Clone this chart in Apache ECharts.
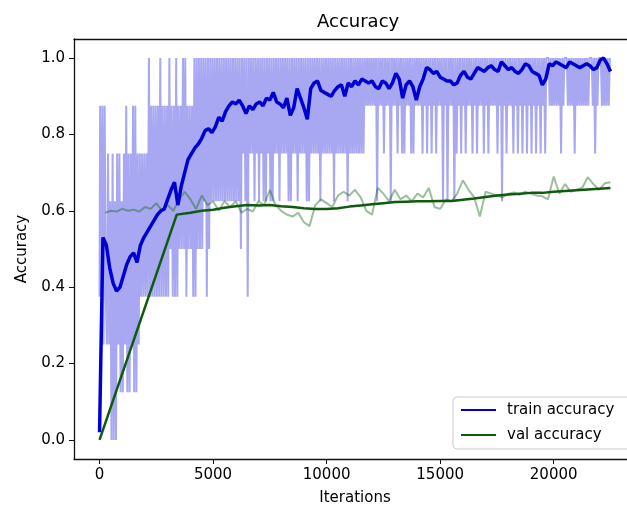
<!DOCTYPE html>
<html>
<head>
<meta charset="utf-8">
<script src="https://cdn.jsdelivr.net/npm/echarts@6/dist/echarts.min.js"></script>
<style>
  html, body { margin: 0; padding: 0; background: #fff; }
  #chart { width: 627px; height: 507px; }
</style>
</head>
<body>
<div id="chart"></div>
<script>
// Per-batch training accuracy, logged every 50 iterations, stored in eighths (batch of 8)
const trainRawStep = 50;
const trainRawEighths = [
  3,7,3,7,2,7,3,2,6,2,  5,0,6,0,5,0,6,2,6,1,  5,1,6,2,7,1,6,1,6,2,
  7,1,7,1,6,2,6,3,6,3,  6,3,6,3,8,3,7,3,7,3,  7,3,7,3,8,3,7,3,7,3,
  7,3,8,4,7,3,7,3,8,3,  7,4,7,4,8,4,8,3,7,4,  7,4,7,3,8,3,8,4,8,4,
  8,4,8,5,8,3,8,4,8,5,  8,5,8,5,8,5,8,5,8,5,  8,5,8,5,8,5,8,5,8,5,
  8,5,8,5,8,4,8,6,8,5,  8,3,8,6,8,6,8,5,8,6,  8,5,8,6,8,5,8,5,8,6,
  8,5,8,5,8,6,8,6,8,5,  8,6,8,6,8,6,8,5,8,5,  8,6,8,6,8,5,8,6,8,6,
  8,6,8,5,8,5,8,6,8,6,  8,6,8,6,8,5,8,6,8,6,  8,6,8,6,8,6,8,5,8,6,
  8,6,8,6,8,6,8,6,8,5,  8,6,8,6,8,6,8,6,8,6,  8,6,8,6,8,7,8,7,8,7,
  8,7,8,7,8,5,8,7,8,7,  8,6,8,7,8,7,8,5,8,7,  8,7,8,6,8,7,8,6,8,6,
  8,7,8,7,8,6,8,6,8,7,  8,7,8,7,8,6,8,7,8,6,  8,7,8,6,8,7,8,6,8,7,
  8,7,8,5,8,7,8,5,8,7,  8,7,8,5,8,6,8,7,8,6,  8,7,8,6,8,7,8,7,8,6,
  8,7,8,6,8,7,8,7,8,6,  8,7,8,6,8,7,8,7,8,7,  8,6,8,7,8,5,8,7,8,6,
  8,7,8,7,8,6,8,7,8,6,  8,7,8,6,8,7,8,6,8,7,  8,6,8,7,8,6,8,7,8,6,
  8,7,8,6,8,8,8,7,8,7,  8,7,8,7,8,7,8,6,8,7,  8,8,8,7,8,7,8,7,8,6,
  8,7,8,7,8,7,8,7,8,7,  8,7,8,8,8,7,8,6,8,7,  8,8,8,7,8,7,8,7,8,7,
  8
];

// Smoothed training accuracy, every 150 iterations
const trainSmoothStep = 150;
const trainSmooth = [
  0.02, 0.53, 0.51, 0.45, 0.41, 0.39, 0.40, 0.43, 0.46, 0.48,
  0.49, 0.465, 0.51, 0.53, 0.545, 0.56, 0.575, 0.59, 0.60, 0.605,
  0.63, 0.655, 0.675, 0.615, 0.665, 0.70, 0.735, 0.75, 0.765, 0.775,
  0.79, 0.81, 0.815, 0.805, 0.82, 0.845, 0.835, 0.86, 0.875, 0.885,
  0.88, 0.89, 0.875, 0.855, 0.875, 0.865, 0.88, 0.885, 0.875, 0.895,
  0.89, 0.91, 0.885, 0.88, 0.87, 0.895, 0.85, 0.87, 0.92, 0.895,
  0.87, 0.84, 0.92, 0.935, 0.94, 0.915, 0.91, 0.905, 0.90, 0.915,
  0.925, 0.93, 0.90, 0.935, 0.925, 0.94, 0.93, 0.945, 0.94, 0.935,
  0.94, 0.925, 0.92, 0.94, 0.935, 0.92, 0.935, 0.96, 0.945, 0.895,
  0.93, 0.94, 0.925, 0.89, 0.925, 0.945, 0.975, 0.97, 0.96, 0.965,
  0.95, 0.945, 0.94, 0.94, 0.93, 0.935, 0.955, 0.965, 0.95, 0.945,
  0.96, 0.975, 0.97, 0.965, 0.975, 0.98, 0.97, 0.965, 0.99, 0.98,
  0.97, 0.975, 0.965, 0.96, 0.97, 0.985, 0.98, 0.965, 0.96, 0.955,
  0.93, 0.945, 0.985, 0.98, 0.99, 0.985, 0.98, 0.975, 0.99, 0.985,
  0.98, 0.975, 0.98, 0.985, 0.98, 0.97, 0.975, 0.995, 1.0, 0.985,
  0.965
];

// Validation accuracy, evaluated every 250 iterations from iteration 250
const valRawStart = 250;
const valRawStep = 250;
const valRaw = [
  0.595, 0.60, 0.598, 0.605, 0.60, 0.603, 0.598, 0.61, 0.605, 0.62,
  0.60, 0.615, 0.60, 0.63, 0.65, 0.63, 0.605, 0.64, 0.615, 0.625,
  0.60, 0.625, 0.61, 0.625, 0.595, 0.605, 0.598, 0.625, 0.615, 0.655,
  0.615, 0.60, 0.59, 0.585, 0.595, 0.57, 0.56, 0.615, 0.63, 0.62,
  0.61, 0.64, 0.65, 0.64, 0.655, 0.635, 0.60, 0.59, 0.66, 0.645,
  0.625, 0.655, 0.63, 0.64, 0.625, 0.645, 0.635, 0.66, 0.61, 0.605,
  0.63, 0.625, 0.645, 0.68, 0.655, 0.635, 0.585, 0.65, 0.645, 0.64,
  0.635, 0.645, 0.648, 0.642, 0.65, 0.645, 0.64, 0.638, 0.63, 0.69,
  0.645, 0.67, 0.65, 0.655, 0.66, 0.688, 0.67, 0.655, 0.672, 0.675
];

// Smoothed validation accuracy
const valSmoothIters = [
  0, 3400, 4000, 4500, 5000, 5500, 6000, 6500, 7000, 7500,
  8000, 8500, 9000, 9500, 10000, 10500, 11000, 11500, 12000, 12500,
  13000, 13500, 14000, 14500, 15000, 15500, 16000, 16500, 17000, 17500,
  18000, 18500, 19000, 19500, 20000, 20500, 21000, 21500, 22000, 22500
];
const valSmoothAcc = [
  0, 0.59, 0.595, 0.60, 0.603, 0.608, 0.612, 0.615, 0.614, 0.615,
  0.612, 0.61, 0.607, 0.605, 0.605, 0.607, 0.611, 0.614, 0.617, 0.62,
  0.623, 0.624, 0.625, 0.625, 0.626, 0.626, 0.629, 0.632, 0.636, 0.64,
  0.643, 0.645, 0.647, 0.647, 0.65, 0.652, 0.654, 0.656, 0.658, 0.66
];

const xTicks = [0, 5000, 10000, 15000, 20000];
const yTicks = [0, 0.2, 0.4, 0.6, 0.8, 1.0];

const FONT = 'DejaVu Sans';
const FRAME = { color: '#111', width: 1.3 };
const chart = echarts.init(document.getElementById('chart'), null, { renderer: 'canvas' });

chart.setOption({
  animation: false,
  backgroundColor: '#fff',
  title: {
    text: 'Accuracy',
    left: 312,
    top: 8,
    textStyle: { fontFamily: FONT, fontSize: 18, fontWeight: 'normal', color: '#000' }
  },
  legend: {
    data: ['train accuracy', 'val accuracy'],
    orient: 'vertical',
    left: 453,
    top: 397,
    icon: 'rect',
    itemWidth: 35,
    itemHeight: 2,
    itemGap: 7,
    padding: [4, 24, 5, 8],
    backgroundColor: '#fff',
    borderColor: '#ccc',
    borderWidth: 1,
    borderRadius: 4,
    selectedMode: false,
    textStyle: { fontFamily: FONT, fontSize: 15, color: '#000', lineHeight: 18, padding: [0, 0, 0, 6] }
  },
  grid: {
    left: 74,
    top: 39,
    width: 562,
    height: 420,
    outerBoundsMode: 'none',
    containLabel: false
  },
  xAxis: [{
    type: 'value',
    min: -1125,
    max: 23625,
    name: 'Iterations',
    nameLocation: 'middle',
    nameGap: 32,
    nameTextStyle: { fontFamily: FONT, fontSize: 15, color: '#000' },
    axisLine: { show: true, onZero: false, lineStyle: FRAME },
    axisTick: { show: true, length: 5, lineStyle: { color: '#111' }, customValues: xTicks },
    axisLabel: { margin: 9, fontFamily: FONT, fontSize: 15, color: '#000', customValues: xTicks,
                 formatter: v => String(v) },
    splitLine: { show: false }
  }, {
    // top edge of the frame only
    type: 'value',
    position: 'top',
    min: -1125,
    max: 23625,
    axisLine: { show: true, onZero: false, lineStyle: FRAME },
    axisTick: { show: false },
    axisLabel: { show: false },
    splitLine: { show: false }
  }],
  yAxis: {
    type: 'value',
    min: -0.05,
    max: 1.05,
    name: 'Accuracy',
    nameLocation: 'middle',
    nameGap: 44,
    nameRotate: 90,
    nameTextStyle: { fontFamily: FONT, fontSize: 15, color: '#000' },
    axisLine: { show: true, onZero: false, lineStyle: FRAME },
    axisTick: { show: true, length: 5, lineStyle: { color: '#111' }, customValues: yTicks },
    axisLabel: { margin: 9, fontFamily: FONT, fontSize: 15, color: '#000', customValues: yTicks,
                 formatter: v => v.toFixed(1) },
    splitLine: { show: false }
  },
  series: [
    {
      name: 'train batch',
      type: 'line',
      step: 'middle',
      data: trainRawEighths.map((v, i) => [i * trainRawStep, v / 8]),
      showSymbol: false,
      silent: true,
      lineStyle: { color: 'rgba(10,10,220,0.36)', width: 2 },
      z: 1
    },
    {
      name: 'val raw',
      type: 'line',
      data: valRaw.map((v, i) => [valRawStart + i * valRawStep, v]),
      showSymbol: false,
      silent: true,
      lineStyle: { color: 'rgba(20,100,20,0.42)', width: 2 },
      z: 2
    },
    {
      name: 'train accuracy',
      type: 'line',
      color: '#0000d0',
      data: trainSmooth.map((v, i) => [i * trainSmoothStep, v]),
      showSymbol: false,
      silent: true,
      lineStyle: { color: '#0000d0', width: 3.5 },
      z: 3
    },
    {
      name: 'val accuracy',
      type: 'line',
      color: '#0f5a0f',
      data: valSmoothIters.map((x, i) => [x, valSmoothAcc[i]]),
      showSymbol: false,
      silent: true,
      lineStyle: { color: '#0f5a0f', width: 2.5 },
      z: 4
    }
  ]
});
</script>
</body>
</html>
